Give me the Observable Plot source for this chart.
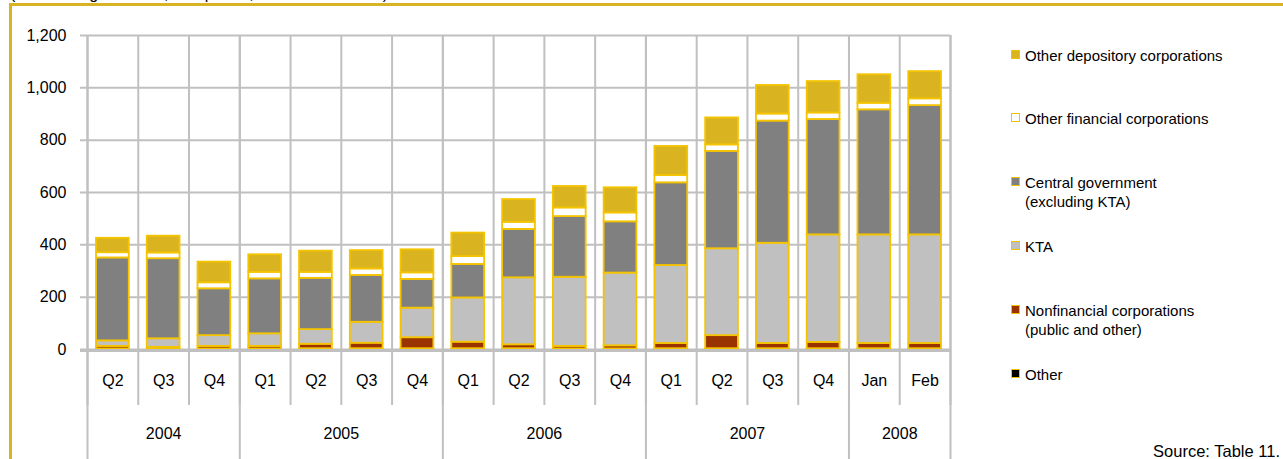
<!DOCTYPE html>
<html><head><meta charset="utf-8">
<script src="https://cdn.jsdelivr.net/npm/d3@7"></script>
<script src="https://cdn.jsdelivr.net/npm/@observablehq/plot@0.6"></script>
<style>
html,body{margin:0;padding:0;background:#fff;overflow:hidden}
#wrap{position:relative;width:1283px;height:459px;font-family:"Liberation Sans",Arial,sans-serif;color:#000;overflow:hidden;background:#fff}
#frame{position:absolute;left:9px;top:3px;right:-10px;bottom:-10px;border-top:3px solid #D8B425;border-left:3px solid #D8B425}
#chart{position:absolute;left:0;top:0}
#cut{position:absolute;left:10px;top:-14px;font-size:16px;line-height:16px;white-space:nowrap}
.leg{position:absolute;left:1011px;font-size:15px;line-height:19px}
.sw{position:absolute;left:0;top:4px;width:7px;height:7px;border:1.5px solid #F2C200}
.lt{margin-left:14px;white-space:pre}
#src{position:absolute;right:3px;top:442px;font-size:16.5px;line-height:19px}
</style>
</head><body>
<div id="wrap">
  <div id="cut">(outstanding amounts, end-period, in millions of euro)</div>
  <div id="frame"></div>
  <div id="chart"></div>
  <div id="legend"></div>
  <div id="src">Source: Table 11.</div>
</div>
<script>
// ---- data ----
const categories  = ["Q2","Q3","Q4","Q1","Q2","Q3","Q4","Q1","Q2","Q3","Q4","Q1","Q2","Q3","Q4","Jan","Feb"];
const periodYears = ["2004","2004","2004","2005","2005","2005","2005","2006","2006","2006","2006","2007","2007","2007","2007","2008","2008"];
const yTicks = [0, 200, 400, 600, 800, 1000, 1200];

// stacked bottom -> top
const other        = [2, 2, 2, 2, 3, 3, 3, 3, 3, 2, 2, 3, 3, 3, 3, 3, 3];
const nonfinancial = [10, 6, 10, 10, 17, 21, 42, 25, 15, 10, 12, 20, 50, 20, 24, 20, 20];
const kta          = [21, 33, 41, 48, 56, 80, 113, 169, 256, 264, 278, 298, 332, 383, 411, 415, 415];
const centralGov   = [317, 306, 179, 210, 196, 179, 110, 128, 185, 232, 196, 316, 372, 467, 441, 478, 494];
const otherFin     = [20, 22, 23, 25, 23, 25, 25, 30, 27, 33, 34, 28, 25, 27, 25, 25, 26];
const otherDep     = [55, 64, 79, 67, 81, 70, 88, 90, 87, 82, 96, 111, 103, 109, 120, 109, 104];

const seriesNames  = ["Other", "Nonfinancial corporations", "KTA", "Central government", "Other financial corporations", "Other depository corporations"];
const seriesValues = [other, nonfinancial, kta, centralGov, otherFin, otherDep];
const seriesColors = ["#000000", "#993300", "#C0C0C0", "#808080", "#FFFFFF", "#D9B420"];

const legendLabels = ["Other depository corporations", "Other financial corporations", "Central government\n(excluding KTA)", "KTA", "Nonfinancial corporations\n(public and other)", "Other"];
const legendSeries = ["Other depository corporations", "Other financial corporations", "Central government", "KTA", "Nonfinancial corporations", "Other"];

// ---- derived tables ----
const n = categories.length;
const records = [];
seriesNames.forEach((s, k) => seriesValues[k].forEach((v, i) => records.push({i, series: s, value: v})));
const periods = categories.map((label, i) => ({i, label}));
const yearSpans = [];
periodYears.forEach((y, i) => {
  const last = yearSpans[yearSpans.length - 1];
  if (last && last.year === y) last.end = i + 1;
  else yearSpans.push({year: y, start: i, end: i + 1});
});
yearSpans.forEach(d => d.mid = (d.start + d.end) / 2);
const boundaries = d3.range(n + 1);
const yearBoundaries = [0, ...yearSpans.map(d => d.end)];

const grid = "#C0C0C0";
const fmt = d3.format(",");
const chart = Plot.plot({
  width: 960, height: 459,
  marginLeft: 87, marginRight: 10, marginTop: 35, marginBottom: 110,
  style: {fontFamily: '"Liberation Sans", Arial, sans-serif', fontSize: "16px", background: "transparent", color: "#000"},
  x: {domain: [0, n], axis: null},
  y: {domain: [0, 1200], axis: null, label: null},
  color: {domain: seriesNames, range: seriesColors},
  marks: [
    Plot.ruleY(yTicks, {stroke: grid, strokeWidth: 2, insetLeft: -7}),
    Plot.ruleX(boundaries, {stroke: grid, strokeWidth: 2, insetBottom: -56}),
    Plot.ruleX(yearBoundaries, {stroke: grid, strokeWidth: 2, insetBottom: -110}),
    Plot.rectY(records, {x: "i", interval: 1, y: "value", z: "series", fill: "series",
      stroke: "#F5C400", strokeWidth: 1.8, insetLeft: 9, insetRight: 9}),
    Plot.ruleY([0], {stroke: grid, strokeWidth: 3, insetLeft: -7, dy: 1}),
    Plot.text(yTicks, {y: d => d, text: d => fmt(d), frameAnchor: "left", textAnchor: "end", dx: -21, fontSize: 16}),
    Plot.text(periods, {x: d => d.i + 0.5, text: "label", frameAnchor: "bottom", dy: 36, fontSize: 16}),
    Plot.text(yearSpans, {x: "mid", text: "year", frameAnchor: "bottom", dy: 89, fontSize: 16})
  ]
});
document.getElementById("chart").appendChild(chart);

// ---- legend ----
const colorOf = Object.fromEntries(seriesNames.map((s, k) => [s, seriesColors[k]]));
const legend = document.getElementById("legend");
legendLabels.forEach((lab, k) => {
  const item = document.createElement("div");
  item.className = "leg";
  item.style.top = (45.5 + k * 63.8) + "px";
  const sw = document.createElement("div");
  sw.className = "sw";
  sw.style.background = colorOf[legendSeries[k]];
  const t = document.createElement("div");
  t.className = "lt";
  t.textContent = lab;
  item.appendChild(sw); item.appendChild(t);
  legend.appendChild(item);
});
</script>
</body></html>
